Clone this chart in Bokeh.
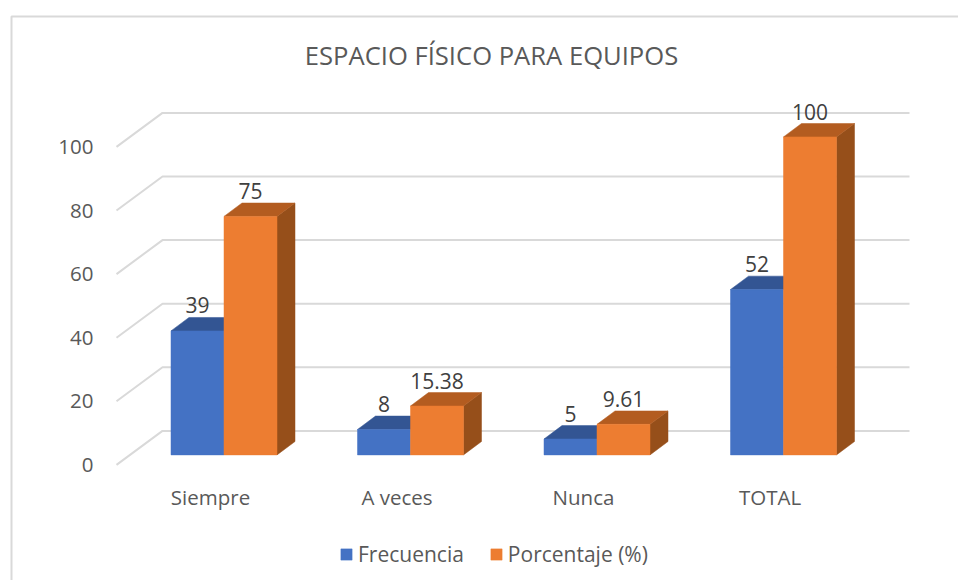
from bokeh.plotting import figure
from bokeh.models import Range1d, FixedTicker, Legend, LegendItem, Label
from bokeh.embed import file_html
from bokeh.resources import INLINE
from bokeh.core.properties import value

TITLE = "ESPACIO FÍSICO PARA EQUIPOS"
categories = ["Siempre", "A veces", "Nunca", "TOTAL"]
frecuencia = [39, 8, 5, 52]
porcentaje = [75, 15.38, 9.61, 100]
frecuencia_labels = ["39", "8", "5", "52"]
porcentaje_labels = ["75", "15.38", "9.61", "100"]
y_ticks = [0, 20, 40, 60, 80, 100]

FONT = "Open Sans"
TXT = "#595959"
GRID = "#d9d9d9"
BLUE, BLUE_TOP = "#4472C4", "#335593"
ORANGE, ORANGE_TOP, ORANGE_SIDE = "#ED7D31", "#B35C20", "#964F1A"

# layout, page pixels: the frame fills the whole canvas
W, H = 958, 580
PX_PER_CAT = 186.5
PX_PER_UNIT = 3.18
CAT0_PX = 210.0
AXIS0_PX = 464.4

px_x = lambda px: (px - CAT0_PX) / PX_PER_CAT
px_y = lambda px: (AXIS0_PX - px) / PX_PER_UNIT
dx_c = lambda px: px / PX_PER_CAT
dy_u = lambda px: px / PX_PER_UNIT

p = figure(width=W, height=H, output_backend="svg", toolbar_location=None,
           x_range=Range1d(px_x(0), px_x(W)), y_range=Range1d(px_y(H), px_y(0)),
           min_border=0, background_fill_color="white", border_fill_color="white",
           outline_line_color=None)
p.grid.visible = False

# title
p.add_layout(Label(x=px_x(491), y=px_y(54.5), text=TITLE, text_align="center", text_baseline="middle",
                   text_font=FONT, text_font_size="25.6px", text_color=TXT))

# chart-area border: left and top edges only, the rest runs off the picture
p.line([px_x(11), px_x(11), px_x(W)], [px_y(H), px_y(16), px_y(16)], line_color=GRID, line_width=2)

# axes, pinned inside the frame
ya = p.yaxis[0]
ya.fixed_location = px_x(100)
ya.ticker = FixedTicker(ticks=y_ticks)
ya.axis_line_color = None
ya.major_tick_line_color = None
ya.minor_tick_line_color = None
ya.major_label_text_font = FONT
ya.major_label_text_font_size = "20.5px"
ya.major_label_text_color = TXT
ya.major_label_standoff = 1

xa = p.xaxis[0]
xa.fixed_location = px_y(470)
xa.ticker = FixedTicker(ticks=list(range(len(categories))))
xa.major_label_overrides = {i: c for i, c in enumerate(categories)}
xa.axis_line_color = None
xa.major_tick_line_color = None
xa.minor_tick_line_color = None
xa.major_label_text_font = FONT
xa.major_label_text_font_size = "20.5px"
xa.major_label_text_color = TXT
xa.major_label_standoff = 6

# back-plane gridlines with their stubs toward the axis
STUB_L, BACK_L, BACK_R = 116.0, 162.0, 909.0
BACK_RISE = 34.0
xs = [[px_x(STUB_L), px_x(BACK_L), px_x(BACK_R)] for _ in y_ticks]
ys = [[t, t + dy_u(BACK_RISE), t + dy_u(BACK_RISE)] for t in y_ticks]
p.multi_line(xs, ys, line_color=GRID, line_width=2)

# bars
BAR_W = 53.0 / PX_PER_CAT
BLUE_OFF = (197.0 - CAT0_PX) / PX_PER_CAT
ORANGE_OFF = BLUE_OFF + BAR_W
FRONT = dy_u(10.0)
DEPTH_X = dx_c(18.0)
DEPTH_Y = dy_u(13.4)


def top_face(x0, v):
    top = v + FRONT
    return ([x0 - BAR_W / 2, x0 + BAR_W / 2, x0 + BAR_W / 2 + DEPTH_X, x0 - BAR_W / 2 + DEPTH_X],
            [top, top, top + DEPTH_Y, top + DEPTH_Y])


def side_face(x0, v):
    top = v + FRONT
    r = x0 + BAR_W / 2
    return ([r, r + DEPTH_X, r + DEPTH_X, r],
            [FRONT, FRONT + DEPTH_Y, top + DEPTH_Y, top])


bx = [i + BLUE_OFF for i in range(len(categories))]
ox = [i + ORANGE_OFF for i in range(len(categories))]
tb = [top_face(x, v) for x, v in zip(bx, frecuencia)]
to = [top_face(x, v) for x, v in zip(ox, porcentaje)]
so = [side_face(x, v) for x, v in zip(ox, porcentaje)]

p.patches([f[0] for f in tb], [f[1] for f in tb], fill_color=BLUE_TOP, line_color=BLUE_TOP, line_width=0.5)
r_blue = p.vbar(x=bx, width=BAR_W, bottom=FRONT, top=[v + FRONT for v in frecuencia],
                fill_color=BLUE, line_color=BLUE, line_width=0.5)
p.patches([f[0] for f in so], [f[1] for f in so], fill_color=ORANGE_SIDE, line_color=ORANGE_SIDE, line_width=0.5)
p.patches([f[0] for f in to], [f[1] for f in to], fill_color=ORANGE_TOP, line_color=ORANGE_TOP, line_width=0.5)
r_orange = p.vbar(x=ox, width=BAR_W, bottom=FRONT, top=[v + FRONT for v in porcentaje],
                  fill_color=ORANGE, line_color=ORANGE, line_width=0.5)

# data labels
lab_x = bx + ox
lab_y = [v + FRONT + DEPTH_Y for v in frecuencia + porcentaje]
lab_t = frecuencia_labels + porcentaje_labels
p.text(x=lab_x, y=lab_y, text=lab_t, text_align="center", text_baseline="middle", y_offset=-12,
       text_color="#404040", text_font=value(FONT), text_font_size="21px")

# legend
legend = Legend(items=[LegendItem(label="Frecuencia", renderers=[r_blue]),
                       LegendItem(label="Porcentaje (%)", renderers=[r_orange])],
                orientation="horizontal", location=(339, 12),
                label_text_font=FONT, label_text_font_size="21px", label_text_color=TXT,
                glyph_width=14, glyph_height=14, label_standoff=5, spacing=25,
                border_line_color=None, background_fill_alpha=0, margin=0, padding=0)
p.add_layout(legend)

open("out.html", "w").write(file_html(p, INLINE))
